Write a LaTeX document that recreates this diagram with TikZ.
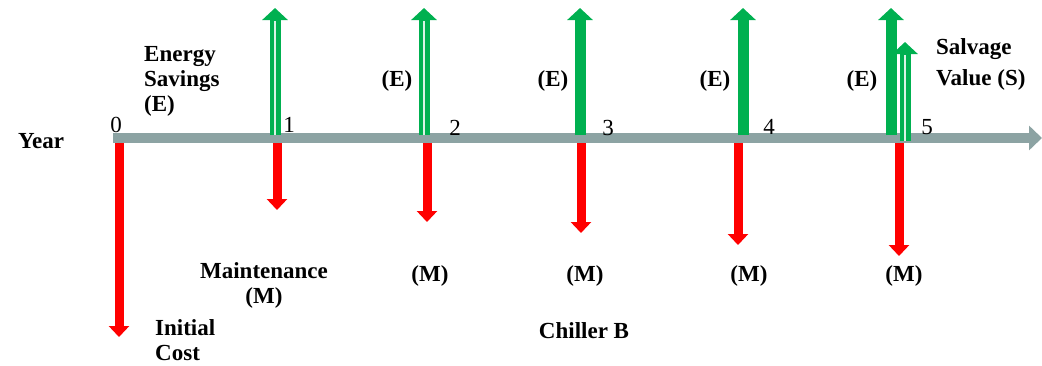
\documentclass[tikz,border=0pt]{standalone}
\usepackage{fontspec}
\setmainfont{Liberation Serif}
\usepackage{xcolor}
\definecolor{axisGray}{HTML}{8CA3A3}
\definecolor{savingsGreen}{HTML}{00B050}
\definecolor{costRed}{HTML}{FF0000}
\usepackage{tikz}
\usetikzlibrary{
    arrows.meta,
    positioning
}
\tikzset{
    % Bold labels of the cash flows
    flow label/.style={
        font=\fontsize{23}{25}\selectfont\bfseries,
        text=black,
        inner sep=0pt,
    },
    % Plain year numbers on the axis
    year label/.style={
        font=\fontsize{23}{25}\selectfont,
        text=black,
        inner sep=0pt,
        anchor=base,
    },
    % Time axis - thick gray bar
    axis line/.style={
        line width=10pt,
        draw=axisGray,
        -{Triangle[length=13pt, width=24pt]},
    },
    % Costs pointing down
    cost arrow/.style={
        line width=9pt,
        draw=costRed,
        -{Triangle[length=11pt, width=20pt]},
    },
    % Savings pointing up
    saving arrow/.style={
        line width=11pt,
        draw=savingsGreen,
        -{Triangle[length=12pt, width=25pt]},
    },
    % Thin light stripe inside the hollow savings arrows
    saving core/.style={
        line width=1.1pt,
        draw=white!85!savingsGreen,
    },
}
\begin{document}
\begin{tikzpicture}[x=1pt, y=-1pt]
    \useasboundingbox (0,0) rectangle (1042,365);

    % time axis
    \coordinate (axis start) at (113,138);
    \coordinate (axis end) at (1042,138);
    \draw [axis line] (axis start) -- (axis end);

    % costs
    \coordinate (cost0) at (119,143); \coordinate (cost0 tip) at (119,337);
    \coordinate (cost1) at (277,143); \coordinate (cost1 tip) at (277,210);
    \coordinate (cost2) at (427,143); \coordinate (cost2 tip) at (427,222);
    \coordinate (cost3) at (581,143); \coordinate (cost3 tip) at (581,233);
    \coordinate (cost4) at (738,143); \coordinate (cost4 tip) at (738,245);
    \coordinate (cost5) at (899,143); \coordinate (cost5 tip) at (899,256);
    \draw [cost arrow] (cost0) -- (cost0 tip);
    \draw [cost arrow] (cost1) -- (cost1 tip);
    \draw [cost arrow] (cost2) -- (cost2 tip);
    \draw [cost arrow] (cost3) -- (cost3 tip);
    \draw [cost arrow] (cost4) -- (cost4 tip);
    \draw [cost arrow] (cost5) -- (cost5 tip);

    % savings
    \coordinate (save1) at (275,135); \coordinate (save1 tip) at (275,8); \coordinate (save1 neck) at (275,21);
    \coordinate (save2) at (424,135); \coordinate (save2 tip) at (424,8); \coordinate (save2 neck) at (424,21);
    \coordinate (save3) at (580,135); \coordinate (save3 tip) at (580,8);
    \coordinate (save4) at (743,135); \coordinate (save4 tip) at (743,8);
    \coordinate (save5) at (891,135); \coordinate (save5 tip) at (891,8);
    \coordinate (salvage) at (905,141); \coordinate (salvage tip) at (905,42); \coordinate (salvage neck) at (905,55);
    \draw [saving arrow] (save1) -- (save1 tip);
    \draw [saving core] (save1) -- (save1 neck);
    \draw [saving arrow] (save2) -- (save2 tip);
    \draw [saving core] (save2) -- (save2 neck);
    \draw [saving arrow] (save3) -- (save3 tip);
    \draw [saving arrow] (save4) -- (save4 tip);
    \draw [saving arrow] (save5) -- (save5 tip);
    \draw [saving arrow] (salvage) -- (salvage tip);
    \draw [saving core] (salvage) -- (salvage neck);

    % years
    \node (year) [flow label, anchor=base] at (41,148) {Year};
    \node (y0) [year label] at (116,132) {0};
    \node (y1) [year label] at (289,132) {1};
    \node (y2) [year label] at (455,135) {2};
    \node (y3) [year label] at (608,135) {3};
    \node (y4) [year label] at (769,134) {4};
    \node (y5) [year label] at (927,134) {5};

    % labels
    \node (energy) [flow label, align=left, anchor=north west] at (144,46) {Energy\\Savings\\(E)};
    \node (e2) [flow label, anchor=base] at (397,86) {(E)};
    \node (e3) [flow label, anchor=base] at (553,86) {(E)};
    \node (e4) [flow label, anchor=base] at (715,86) {(E)};
    \node (e5) [flow label, anchor=base] at (862,86) {(E)};
    \node (salv) [flow label, align=left, anchor=north west] at (936,38) {Salvage\\[6pt]Value (S)};
    \node (maint) [flow label, align=center, anchor=north] at (264,262) {Maintenance\\(M)};
    \node (m2) [flow label, anchor=base] at (430,281) {(M)};
    \node (m3) [flow label, anchor=base] at (585,281) {(M)};
    \node (m4) [flow label, anchor=base] at (749,281) {(M)};
    \node (m5) [flow label, anchor=base] at (904,281) {(M)};
    \node (init) [flow label, align=left, anchor=north west] at (155,319) {Initial\\Cost};
    \node (chiller) [flow label, anchor=base] at (584,338) {Chiller B};
\end{tikzpicture}
\end{document}
